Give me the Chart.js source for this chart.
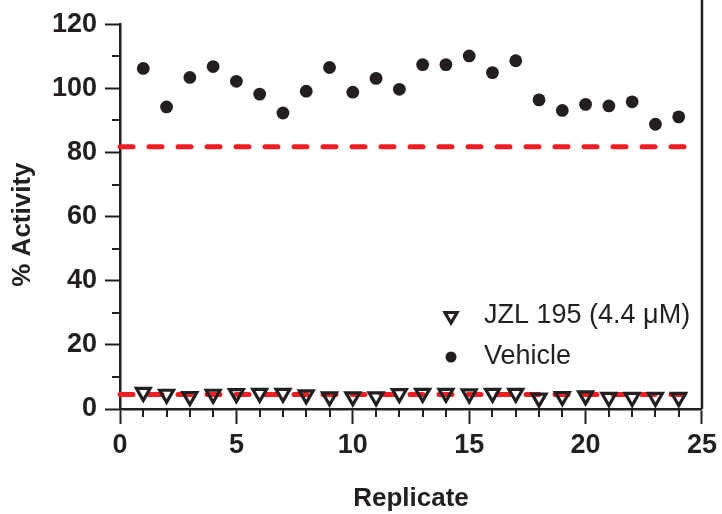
<!DOCTYPE html>
<html><head><meta charset="utf-8">
<script src="https://cdn.jsdelivr.net/npm/chart.js@4/dist/chart.umd.min.js"></script>
<style>html,body{margin:0;padding:0;background:#fff}#wrap{width:722px;height:514px}</style>
</head><body><div id="wrap"><canvas id="c" width="722" height="514"></canvas></div>
<script>
const replicates = [1,2,3,4,5,6,7,8,9,10,11,12,13,14,15,16,17,18,19,20,21,22,23,24];
const jzlValues = [5.2,4.6,3.9,4.6,4.8,4.9,4.9,4.4,3.8,3.8,3.8,4.8,4.9,4.9,4.7,4.9,4.9,3.4,3.9,4.1,3.6,3.6,3.6,3.6];
const vehicleValues = [106.2,94.2,103.4,106.8,102.2,98.2,92.3,99.1,106.5,98.8,103.1,99.7,107.4,107.4,110.1,104.9,108.6,96.4,93.1,95.0,94.5,95.8,88.8,91.1];
const refVehicle = 81.75;
const refJzl = 4.5;
const refLineX = [0, 24.5];
const xTicks = [0,5,10,15,20,25];
const yTicks = [0,20,40,60,80,100,120];
const xMinorTicks = [1,2,3,4,6,7,8,9,11,12,13,14,16,17,18,19,21,22,23,24];
const yMinorTicks = [10,30,50,70,90,110];
const seriesLabels = ['JZL 195 (4.4 μM)', 'Vehicle'];
const axisTitles = {x:'Replicate', y:'% Activity'};

const INK = '#231f20';
const RED = 'rgb(237,30,36)';
const FONT = '"Liberation Sans", Arial, sans-serif';

const extras = {
  id:'extras',
  afterDraw(chart){
    const ctx = chart.ctx, xs = chart.scales.x, ys = chart.scales.y, a = chart.chartArea;
    ctx.save();
    ctx.strokeStyle = INK; ctx.lineWidth = 2;
    xMinorTicks.forEach(v=>{const px=Math.round(xs.getPixelForValue(v)); ctx.beginPath(); ctx.moveTo(px,a.bottom); ctx.lineTo(px,a.bottom+8); ctx.stroke();});
    yMinorTicks.forEach(v=>{const py=Math.round(ys.getPixelForValue(v)); ctx.beginPath(); ctx.moveTo(a.left-8,py); ctx.lineTo(a.left,py); ctx.stroke();});
    // right frame line
    const rx = xs.getPixelForValue(25);
    ctx.lineWidth = 2.5;
    ctx.beginPath(); ctx.moveTo(rx,0); ctx.lineTo(rx,a.bottom); ctx.stroke();
    // y axis title
    ctx.save();
    ctx.translate(23, (a.top + a.bottom)/2 + 8);
    ctx.rotate(-Math.PI/2);
    ctx.font = 'bold 26px ' + FONT;
    ctx.fillStyle = INK; ctx.textAlign = 'center'; ctx.textBaseline = 'middle';
    ctx.fillText(axisTitles.y, 0, 0);
    ctx.restore();
    // legend
    const lx = 451, tx = 484, ly = [316, 357];
    ctx.font = '27px ' + FONT;
    ctx.fillStyle = INK; ctx.textBaseline = 'middle'; ctx.textAlign = 'left';
    const r = 7;
    ctx.lineWidth = 3.2; ctx.lineJoin='miter';
    ctx.beginPath();
    ctx.moveTo(lx, ly[0]+r);
    ctx.lineTo(lx - r*Math.sin(Math.PI/3), ly[0]-r/2);
    ctx.lineTo(lx + r*Math.sin(Math.PI/3), ly[0]-r/2);
    ctx.closePath(); ctx.stroke();
    ctx.fillText(seriesLabels[0], tx, ly[0]);
    ctx.beginPath(); ctx.arc(lx, ly[1], 5.5, 0, Math.PI*2); ctx.fill();
    ctx.fillText(seriesLabels[1], tx, ly[1]);
    ctx.restore();
  }
};

new Chart(document.getElementById('c'), {
  data: {
    datasets: [
      {type:'line', label:'ref vehicle', data: refLineX.map(x=>({x, y:refVehicle})), borderColor:RED, borderWidth:5, borderDash:[13,16], borderCapStyle:'round', pointRadius:0, order:10, clip:false},
      {type:'line', label:'ref jzl', data: refLineX.map(x=>({x, y:refJzl})), borderColor:RED, borderWidth:5, borderDash:[13,16], borderCapStyle:'round', pointRadius:0, order:10, clip:false},
      {type:'scatter', label:seriesLabels[0], data: replicates.map((x,i)=>({x, y:jzlValues[i]})), pointStyle:'triangle', rotation:180, pointRadius:8, borderWidth:3.2, borderColor:INK, backgroundColor:'rgba(0,0,0,0)', order:1, clip:false},
      {type:'scatter', label:seriesLabels[1], data: replicates.map((x,i)=>({x, y:vehicleValues[i]})), pointStyle:'circle', pointRadius:6.4, borderWidth:0, backgroundColor:INK, order:1, clip:false}
    ]
  },
  options: {
    responsive:false, animation:false, devicePixelRatio:1,
    layout:{padding:{top:19, right:16, left:0, bottom:0}},
    plugins:{legend:{display:false}, tooltip:{enabled:false}},
    scales:{
      x:{type:'linear', position:'bottom', min:0, max:25,
        afterBuildTicks(s){ s.ticks = xTicks.map(v=>({value:v})); },
        afterFit(s){ s.height = 105; },
        ticks:{color:INK, font:{family:FONT, size:27, weight:'bold'}, padding:5, maxRotation:0, autoSkip:false},
        grid:{drawOnChartArea:false, tickLength:15, tickWidth:2, tickColor:INK},
        border:{display:true, width:2.5, color:INK},
        title:{display:true, text:axisTitles.x, color:INK, font:{family:FONT, size:26, weight:'bold'}, padding:{top:0,bottom:0}}
      },
      y:{type:'linear', position:'left', min:0, max:120,
        afterBuildTicks(s){ s.ticks = yTicks.map(v=>({value:v})); },
        afterFit(s){ s.width = 120; },
        ticks:{color:INK, font:{family:FONT, size:27, weight:'bold'}, padding:8},
        grid:{drawOnChartArea:false, tickLength:15, tickWidth:2, tickColor:INK},
        border:{display:true, width:2.5, color:INK},
        title:{display:false}
      }
    }
  },
  plugins:[extras]
});
</script></body></html>
